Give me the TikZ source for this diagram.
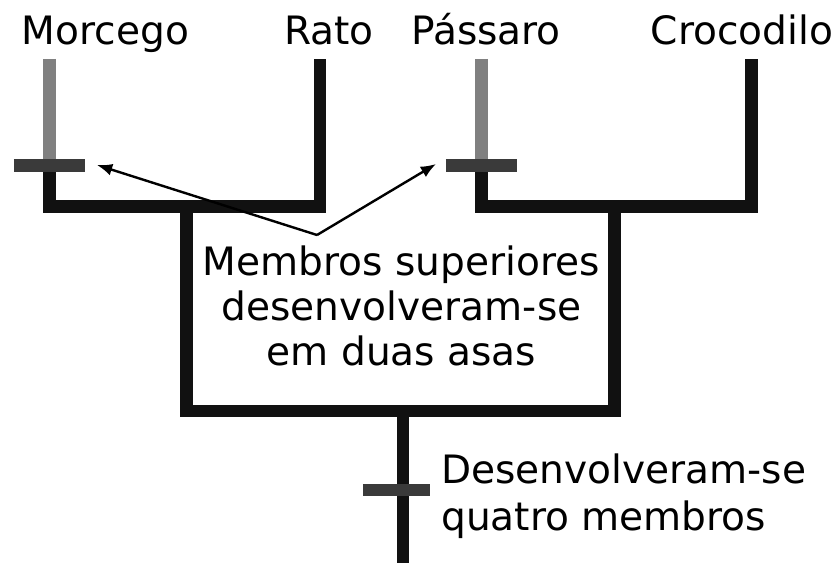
\documentclass[tikz,border=0pt]{standalone}
\usepackage{fontspec}
\setmainfont{DejaVu Sans}
\usetikzlibrary{arrows.meta}
\definecolor{treeblack}{HTML}{111111}
\definecolor{winggray}{HTML}{808080}
\definecolor{bargray}{HTML}{3A3A3A}
\begin{document}
\begin{tikzpicture}[x=0.025cm, y=-0.025cm,
          branch/.style={treeblack, line width=0.3125cm, line join=miter},
          wing/.style={winggray, line width=0.3125cm},
          tickbar/.style={bargray, line width=0.3125cm},
          label/.style={font=\fontsize{27.8}{32}\selectfont, inner sep=0pt, anchor=base},
          pointer/.style={black, line width=0.06cm, -{Latex[length=0.38cm, width=0.3cm]}}]
          \useasboundingbox (0,0) rectangle (840,563);
          \node[label] (bat) at (105.5,45) {Morcego};
          \node[label] (rat) at (329,45) {Rato};
          \node[label] (bird) at (486,45) {Pássaro};
          \node[label] (croc) at (742,45) {Crocodilo};
          \coordinate (bat top) at (49.5,59);
          \coordinate (bat wing) at (49.5,165.5);
          \coordinate (rat top) at (320,59);
          \coordinate (bird top) at (481.5,59);
          \coordinate (bird wing) at (481.5,165.5);
          \coordinate (croc top) at (751.5,59);
          \coordinate (left join) at (186.5,206.5);
          \coordinate (right join) at (614.5,206.5);
          \coordinate (root) at (403,411);
          \coordinate (root end) at (403,563);
          \coordinate (limbs) at (403,490);
          \draw[wing] (bat top) -- (bat wing);
          \draw[wing] (bird top) -- (bird wing);
          \draw[branch] (bat wing) |- (rat top |- left join) -- (rat top);
          \draw[branch] (bird wing) |- (croc top |- right join) -- (croc top);
          \draw[branch] (left join) |- (root) -| (right join);
          \draw[branch] (root) -- (root end);
          \draw[tickbar] ([xshift=-0.8875cm]bat wing) -- ([xshift=0.8875cm]bat wing);
          \draw[tickbar] ([xshift=-0.8875cm]bird wing) -- ([xshift=0.8875cm]bird wing);
          \draw[tickbar] ([xshift=-1cm]limbs) -- ([xshift=0.675cm]limbs);
          \node[label, align=center, font=\fontsize{27.8}{31.9}\selectfont] (wings) at (401.5,365) {Membros superiores\\desenvolveram-se\\em duas asas};
          \node[label, anchor=base west, align=left, font=\fontsize{27.8}{33.3}\selectfont] (four) at (441,530) {Desenvolveram-se\\quatro membros};
          \coordinate (apex) at (317,235);
          \coordinate (bat tip) at (97,165);
          \coordinate (bird tip) at (436,164);
          \draw[pointer] (apex) -- (bat tip);
          \draw[pointer] (apex) -- (bird tip);
      \end{tikzpicture}
\end{document}
